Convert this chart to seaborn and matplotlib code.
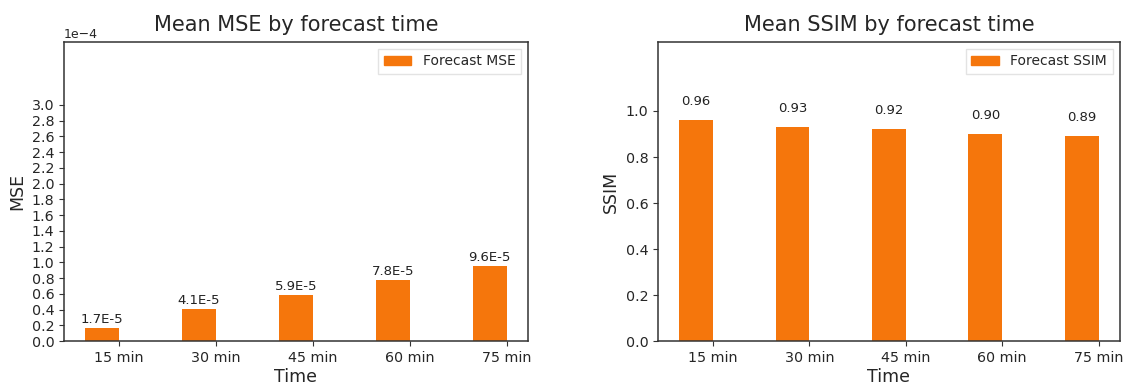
import numpy as np
import pandas as pd
import matplotlib
matplotlib.use("Agg")
import matplotlib.pyplot as plt
import seaborn as sns

# Forecast horizons and mean scores per horizon
times = ["15 min", "30 min", "45 min", "60 min", "75 min"]
mse_values = [1.7e-5, 4.1e-5, 5.9e-5, 7.8e-5, 9.6e-5]
ssim_values = [0.96, 0.93, 0.92, 0.90, 0.89]

mse_ticks = np.arange(0, 3.01e-4, 0.2e-4)
ssim_ticks = [0.0, 0.2, 0.4, 0.6, 0.8, 1.0]

BAR_COLOR = "#f5760c"

sns.set_style("ticks")
plt.rcParams["font.family"] = ["DejaVu Sans"]

fig = plt.figure(figsize=(11.23, 3.85), dpi=100)
ax_mse = fig.add_axes([0.057, 0.114, 0.413, 0.777])
ax_ssim = fig.add_axes([0.586, 0.114, 0.411, 0.777])


def fmt_sci(v):
    return f"{v:.1E}".replace("E-0", "E-")


def draw_panel(ax, values, series, ylabel, title, ylim, yticks, labels, pad):
    df = pd.DataFrame({"Time": times, "value": values, "series": series})
    # a second (empty) hue slot keeps each bar just left of its tick
    sns.barplot(data=df, x="Time", y="value", hue="series",
                hue_order=[series, "_spare"],
                palette={series: BAR_COLOR, "_spare": BAR_COLOR},
                width=0.7, dodge=True, saturation=1, ax=ax, legend=False,
                errorbar=None, linewidth=0)
    ax.bar_label(ax.containers[0], labels=labels, padding=pad, fontsize=9.5,
                 color="#222222")
    ax.set_xlim(-0.5675, 4.2175)
    ax.set_ylim(*ylim)
    ax.set_yticks(yticks)
    ax.set_xlabel("Time", fontsize=12.5, labelpad=2)
    ax.set_ylabel(ylabel, fontsize=12.5)
    ax.set_title(title, fontsize=15, pad=8)
    ax.tick_params(axis="both", labelsize=10.3, length=3.5, color="#333333")
    for s in ax.spines.values():
        s.set_visible(True)
        s.set_linewidth(1.1)
        s.set_color("#333333")
    handle = matplotlib.patches.Patch(color=BAR_COLOR, label=series)
    ax.legend(handles=[handle], loc="upper right", fontsize=10,
              frameon=True, framealpha=0.8, edgecolor="#dddddd",
              fancybox=False)


draw_panel(ax_mse, mse_values, "Forecast MSE", "MSE",
           "Mean MSE by forecast time", (0, 3.8e-4), mse_ticks,
           [fmt_sci(v) for v in mse_values], 1)
ax_mse.ticklabel_format(axis="y", style="sci", scilimits=(-4, -4))
ax_mse.yaxis.get_offset_text().set_fontsize(9)

draw_panel(ax_ssim, ssim_values, "Forecast SSIM", "SSIM",
           "Mean SSIM by forecast time", (0, 1.3), ssim_ticks,
           [f"{v:.2f}" for v in ssim_values], 9)

fig.savefig("out.png", dpi=100)
